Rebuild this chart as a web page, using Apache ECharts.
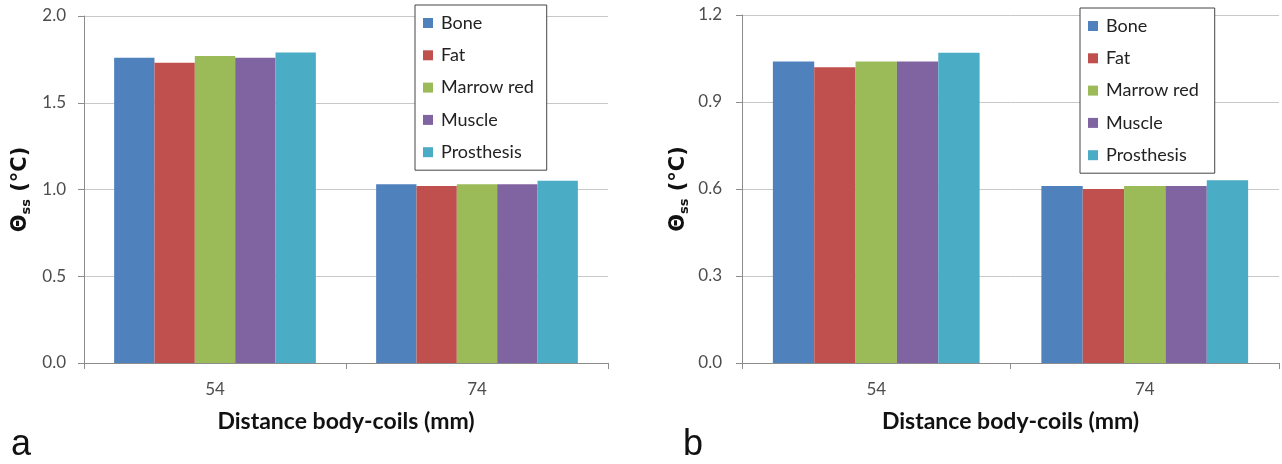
<!DOCTYPE html>
<html><head><meta charset="utf-8">
<script src="https://cdn.jsdelivr.net/npm/echarts@6/dist/echarts.min.js"></script>
<style>html,body{margin:0;padding:0;background:#fff}#c{width:1282px;height:464px}</style>
</head><body><div id="c"></div>
<script>
const categories = ['54', '74'];
const seriesNames = ['Bone', 'Fat', 'Marrow red', 'Muscle', 'Prosthesis'];
// panel a: steady-state temperature rise (°C)
const aBone = [1.76, 1.03];
const aFat = [1.73, 1.02];
const aMarrow = [1.77, 1.03];
const aMuscle = [1.76, 1.03];
const aProsthesis = [1.79, 1.05];
// panel b
const bBone = [1.04, 0.61];
const bFat = [1.02, 0.60];
const bMarrow = [1.04, 0.61];
const bMuscle = [1.04, 0.61];
const bProsthesis = [1.07, 0.63];
const aTicks = ['0.0', '0.5', '1.0', '1.5', '2.0'];
const bTicks = ['0.0', '0.3', '0.6', '0.9', '1.2'];

const colors = ['#4F81BD', '#C0504D', '#9BBB59', '#8064A2', '#4BACC6'];
const FONT = 'Lato, "Open Sans", sans-serif';
const aData = [aBone, aFat, aMarrow, aMuscle, aProsthesis];
const bData = [bBone, bFat, bMarrow, bMuscle, bProsthesis];

function xAx(gi) {
  return {
    type: 'category', gridIndex: gi, data: categories,
    name: 'Distance body-coils (mm)', nameLocation: 'middle', nameGap: 47,
    nameTextStyle: {fontFamily: FONT, fontWeight: 'bold', fontSize: 23, color: '#111'},
    axisLine: {lineStyle: {color: '#8c8c8c', width: 1}},
    axisTick: {show: true, length: 6, lineStyle: {color: '#8c8c8c'}},
    axisLabel: {fontFamily: FONT, fontSize: 17, color: '#4d4d4d', margin: 18}
  };
}
function yAx(gi, max, interval, ticks, gap, margin) {
  return {
    type: 'value', gridIndex: gi, min: 0, max: max, interval: interval,
    name: '{t|Θ}{s|ss}{t| (°C)}', nameLocation: 'middle', nameGap: gap, nameRotate: 90,
    nameTextStyle: {
      rich: {
        t: {fontFamily: 'DejaVu Sans, sans-serif', fontWeight: 'bold', fontSize: 21, color: '#111', lineHeight: 26},
        s: {fontFamily: 'DejaVu Sans, sans-serif', fontWeight: 'bold', fontSize: 13, color: '#111', lineHeight: 26, padding: [11, 0, 0, 0]}
      }
    },
    axisLine: {show: true, lineStyle: {color: '#8c8c8c', width: 1}},
    axisTick: {show: true, length: 6, lineStyle: {color: '#8c8c8c'}},
    splitLine: {show: true, lineStyle: {color: '#c8c8c8', width: 1}},
    axisLabel: {
      fontFamily: FONT, fontSize: 17, color: '#4d4d4d', margin: margin,
      formatter: function (v) { const i = Math.round(v / interval); return ticks[i] !== undefined ? ticks[i] : ''; }
    }
  };
}
function legend(left, top, padRight) {
  return {
    orient: 'vertical', left: left, top: top, data: seriesNames,
    itemWidth: 10, itemHeight: 10, itemGap: 14.3, icon: 'rect',
    padding: [9, padRight, 9, 8],
    borderColor: '#444', borderWidth: 1, backgroundColor: '#fff',
    textStyle: {fontFamily: FONT, fontSize: 18, lineHeight: 18, color: '#222', padding: [0, 0, 0, 3]},
    selectedMode: false
  };
}
const series = [];
[aData, bData].forEach(function (set, gi) {
  set.forEach(function (vals, i) {
    series.push({
      type: 'bar', name: seriesNames[i], xAxisIndex: gi, yAxisIndex: gi,
      data: vals, barGap: '0%', barCategoryGap: '23%',
      itemStyle: {color: colors[i]}, z: 2
    });
  });
});

const chart = echarts.init(document.getElementById('c'), null, {renderer: 'canvas'});
chart.setOption({
  animation: false,
  color: colors,
  title: [
    {text: 'a', left: 11, top: 427, padding: 0, textStyle: {fontFamily: 'Liberation Sans, Arial, sans-serif', fontSize: 36, fontWeight: 'normal', color: '#111'}},
    {text: 'b', left: 683, top: 427, padding: 0, textStyle: {fontFamily: 'Liberation Sans, Arial, sans-serif', fontSize: 36, fontWeight: 'normal', color: '#111'}}
  ],
  grid: [
    {left: 84, top: 16, width: 524, height: 347},
    {left: 742, top: 15, width: 537, height: 348}
  ],
  xAxis: [xAx(0), xAx(1)],
  yAxis: [yAx(0, 2.0, 0.5, aTicks, 50, 18), yAx(1, 1.2, 0.3, bTicks, 50, 20)],
  legend: [legend(415, 5, 13), legend(1080, 8, 16)],
  series: series
});
</script></body></html>
